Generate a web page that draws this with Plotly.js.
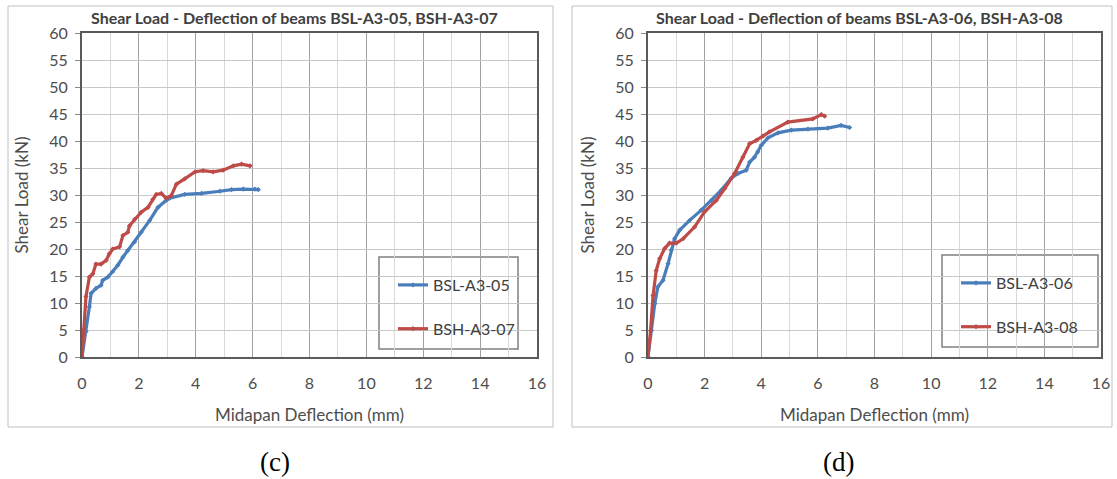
<!DOCTYPE html>
<html>
<head>
<meta charset="utf-8">
<script src="https://cdn.plot.ly/plotly-3.0.1.min.js"></script>
<style>
html,body{margin:0;padding:0;background:#fff;}
#chart{width:1117px;height:479px;}
</style>
</head>
<body>
<div id="chart"></div>
<script>
// Chart (c)
const bsl05_x = [0, 0.14, 0.26, 0.32, 0.49, 0.67, 0.73, 0.91, 1.08, 1.26, 1.44, 1.61, 1.85, 2.08, 2.38, 2.67, 2.96, 3.08, 3.61, 4.2, 4.85, 5.26, 5.67, 6.08, 6.2];
const bsl05_y = [0, 4.7, 9.3, 11.8, 12.7, 13.3, 14.2, 14.8, 15.8, 17.0, 18.5, 19.7, 21.3, 23.1, 25.3, 27.7, 29.0, 29.4, 30.1, 30.3, 30.7, 31.0, 31.1, 31.1, 31.0];
const bsh07_x = [0, 0.05, 0.14, 0.26, 0.38, 0.49, 0.67, 0.85, 0.96, 1.08, 1.32, 1.44, 1.61, 1.67, 1.85, 2.08, 2.32, 2.49, 2.61, 2.79, 2.96, 3.14, 3.32, 3.61, 3.98, 4.26, 4.61, 4.96, 5.32, 5.61, 5.91];
const bsh07_y = [0, 5.0, 11.2, 14.8, 15.4, 17.2, 17.2, 17.9, 19.1, 20.0, 20.4, 22.5, 23.1, 24.3, 25.5, 26.8, 27.7, 29.2, 30.1, 30.3, 29.4, 29.9, 32.0, 33.0, 34.3, 34.5, 34.3, 34.6, 35.4, 35.7, 35.4];
// Chart (d)
const bsl06_x = [0, 0.12, 0.24, 0.35, 0.53, 0.71, 0.82, 0.94, 1.12, 1.47, 1.88, 2.24, 2.59, 2.94, 3.18, 3.47, 3.59, 3.76, 3.88, 4.0, 4.24, 4.59, 5.06, 5.65, 6.35, 6.82, 7.12];
const bsl06_y = [0, 4.9, 9.9, 13.0, 14.2, 17.3, 19.8, 21.9, 23.5, 25.3, 27.2, 29.0, 30.9, 33.1, 34.0, 34.6, 36.1, 37.0, 38.0, 39.2, 40.6, 41.5, 42.0, 42.2, 42.4, 42.9, 42.5];
const bsh08_x = [0, 0.09, 0.18, 0.29, 0.41, 0.59, 0.76, 1.0, 1.24, 1.65, 2.0, 2.41, 2.71, 3.06, 3.35, 3.59, 3.82, 4.06, 4.29, 4.94, 5.82, 6.12, 6.24];
const bsh08_y = [0, 4.9, 11.4, 16.0, 18.2, 20.1, 21.1, 21.1, 21.9, 24.1, 26.9, 29.0, 31.2, 34.0, 37.0, 39.5, 40.1, 40.9, 41.7, 43.5, 44.1, 44.9, 44.6];

const names = ["BSL-A3-05", "BSH-A3-07", "BSL-A3-06", "BSH-A3-08"];
const titles = ["Shear Load - Deflection of beams BSL-A3-05, BSH-A3-07", "Shear Load - Deflection of beams BSL-A3-06, BSH-A3-08"];
const captions = ["(c)", "(d)"];
const xTitle = "Midapan Deflection (mm)";
const yTitle = "Shear Load (kN)";

const BLUE = "#4a7ebb", RED = "#be4b48";
const W = 1117, H = 479;
const px = v => v / W, py = v => 1 - v / H;
const font = "Lato, 'Open Sans', sans-serif";

function tr(x, y, name, color, xa, ya, leg, grp) {
  return {x: x, y: y, name: name, type: "scatter", mode: "lines+markers",
    line: {color: color, width: 3.2}, marker: {color: color, size: 4, symbol: "diamond"},
    xaxis: xa, yaxis: ya, legend: leg, legendgroup: grp};
}
const data = [
  tr(bsl05_x, bsl05_y, names[0], BLUE, "x", "y", "legend", "a"),
  tr(bsh07_x, bsh07_y, names[1], RED, "x", "y", "legend", "b"),
  tr(bsl06_x, bsl06_y, names[2], BLUE, "x2", "y2", "legend2", "c"),
  tr(bsh08_x, bsh08_y, names[3], RED, "x2", "y2", "legend2", "d")
];

function xax(d0, d1, anchor) {
  return {domain: [px(d0), px(d1)], anchor: anchor, range: [0, 16], dtick: 2, tick0: 0,
    showgrid: true, gridcolor: "#a0a0a0", gridwidth: 1,
    minor: {dtick: 1, showgrid: true, gridcolor: "#d9d9d9", gridwidth: 1},
    showline: true, linecolor: "#5a5a5a", linewidth: 2, mirror: true, zeroline: false,
    ticks: "", ticklabelstandoff: 11,
    tickfont: {family: font, size: 16, color: "#4d4d4d"},
    title: {text: xTitle, font: {family: font, size: 17, color: "#4d4d4d"}, standoff: 18}};
}
function yax(anchor) {
  return {domain: [py(357), py(33)], anchor: anchor, range: [0, 60], dtick: 5, tick0: 0,
    showgrid: true, gridcolor: "#c8c8c8", gridwidth: 1,
    showline: true, linecolor: "#5a5a5a", linewidth: 2, mirror: true, zeroline: false,
    ticks: "outside", ticklen: 5, tickcolor: "#8a8a8a", ticklabelstandoff: 4,
    tickfont: {family: font, size: 16, color: "#4d4d4d"},
    title: {text: yTitle, font: {family: font, size: 17, color: "#4d4d4d"}, standoff: 16}};
}

const layout = {
  width: W, height: H, margin: {l: 0, r: 0, t: 0, b: 0},
  paper_bgcolor: "#fff", plot_bgcolor: "#fff", showlegend: true,
  xaxis: xax(82, 537, "y"), yaxis: yax("x"),
  xaxis2: xax(648, 1101, "y2"), yaxis2: yax("x2"),
  legend: {x: px(393), y: py(268), xanchor: "left", yanchor: "top", bgcolor: "rgba(0,0,0,0)",
    borderwidth: 0, tracegroupgap: 20, font: {family: font, size: 16, color: "#404040"}},
  legend2: {x: px(956), y: py(266), xanchor: "left", yanchor: "top", bgcolor: "rgba(0,0,0,0)",
    borderwidth: 0, tracegroupgap: 20, font: {family: font, size: 16, color: "#404040"}},
  shapes: [
    {type: "rect", xref: "paper", yref: "paper", x0: px(8), x1: px(553), y0: py(427), y1: py(6), line: {color: "#c0c0c0", width: 1}},
    {type: "rect", xref: "paper", yref: "paper", x0: px(572), x1: px(1112), y0: py(427), y1: py(6), line: {color: "#c0c0c0", width: 1}},
    {type: "rect", xref: "paper", yref: "paper", x0: px(379), x1: px(518), y0: py(349), y1: py(257), fillcolor: "#fff", line: {color: "#808080", width: 1.5}, layer: "below"},
    {type: "rect", xref: "paper", yref: "paper", x0: px(942), x1: px(1098), y0: py(347), y1: py(255), fillcolor: "#fff", line: {color: "#808080", width: 1.5}, layer: "below"}
  ],
  annotations: [
    {text: "<b>" + titles[0] + "</b>", xref: "paper", yref: "paper", x: px(89), y: py(17), xanchor: "left", yanchor: "middle", showarrow: false, font: {family: font, size: 16, color: "#404040"}},
    {text: "<b>" + titles[1] + "</b>", xref: "paper", yref: "paper", x: px(654), y: py(17), xanchor: "left", yanchor: "middle", showarrow: false, font: {family: font, size: 16, color: "#404040"}},
    {text: captions[0], xref: "paper", yref: "paper", x: px(275), y: py(462), xanchor: "center", yanchor: "middle", showarrow: false, font: {family: "Liberation Serif, serif", size: 27, color: "#000"}},
    {text: captions[1], xref: "paper", yref: "paper", x: px(838), y: py(462), xanchor: "center", yanchor: "middle", showarrow: false, font: {family: "Liberation Serif, serif", size: 27, color: "#000"}}
  ]
};

Plotly.newPlot("chart", data, layout, {displayModeBar: false, staticPlot: true});
</script>
</body>
</html>
